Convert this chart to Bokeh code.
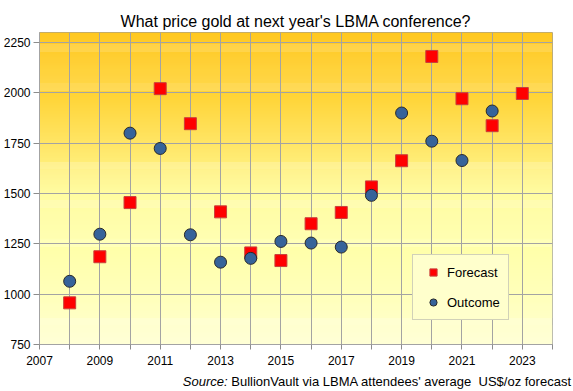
from bokeh.plotting import figure
from bokeh.models import FixedTicker, Legend, LegendItem, ColumnDataSource, Div
from bokeh.layouts import column
from bokeh.embed import file_html
from bokeh.resources import INLINE

# ---- data ----
forecast_years = [2008, 2009, 2010, 2011, 2012, 2013, 2014, 2015, 2016, 2017,
                  2018, 2019, 2020, 2021, 2022, 2023]
forecast = [957, 1186, 1455, 2021, 1847, 1409, 1205, 1167, 1350, 1406,
            1533, 1663, 2181, 1971, 1837, 1997]
outcome_years = [2008, 2009, 2010, 2011, 2012, 2013, 2014, 2015, 2016, 2017,
                 2018, 2019, 2020, 2021, 2022]
outcome = [1064, 1298, 1800, 1724, 1295, 1159, 1178, 1262, 1254, 1234,
           1491, 1900, 1760, 1664, 1910]
x_ticks = list(range(2007, 2025))
x_tick_labels = ["2007", "2009", "2011", "2013", "2015", "2017", "2019", "2021", "2023"]
y_ticks = [750, 1000, 1250, 1500, 1750, 2000, 2250]

FONT = "Liberation Sans"
GRID = "#A3A3A3"

p = figure(width=573, height=368, output_backend="svg", toolbar_location=None,
           x_range=(2007, 2024), y_range=(750, 2300),
           min_border_left=39, min_border_right=21, min_border_top=32,
           min_border_bottom=24)
p.background_fill_color = "#FFFFFF"
p.border_fill_color = "#FFFFFF"
p.outline_line_color = GRID
p.outline_line_width = 1

# title
p.title.text = "What price gold at next year's LBMA conference?"
p.title.align = "center"
p.title.text_font = FONT
p.title.text_font_size = "16px"
p.title.text_font_style = "normal"
p.title.text_color = "#000000"
p.title.standoff = 6

# gradient background (horizontal bands)
stops = [(750, (255, 255, 208)), (1000, (255, 255, 186)), (1250, (255, 255, 168)),
         (1500, (255, 251, 147)), (1750, (255, 229, 102)), (2000, (255, 211, 51)),
         (2300, (255, 192, 0))]


def col_at(v):
    for (v0, c0), (v1, c1) in zip(stops[:-1], stops[1:]):
        if v0 <= v <= v1:
            t = (v - v0) / (v1 - v0)
            return "#%02x%02x%02x" % tuple(int(round(a + (b - a) * t)) for a, b in zip(c0, c1))
    return "#%02x%02x%02x" % stops[-1][1]


bands_b = list(range(750, 2300, 5))
bg = ColumnDataSource(dict(bottom=bands_b, top=[b + 6 for b in bands_b],
                           color=[col_at(b + 2.5) for b in bands_b]))
r_bg = p.quad(left=2007, right=2024, bottom="bottom", top="top", fill_color="color",
              line_color=None, source=bg)
r_bg.level = "image"

# axes
for ax in (p.xaxis[0], p.yaxis[0]):
    ax.axis_line_color = GRID
    ax.major_tick_line_color = "#8C8C8C"
    ax.major_tick_in = 0
    ax.minor_tick_line_color = None
    ax.major_label_text_font = FONT
    ax.major_label_text_font_size = "12px"
    ax.major_label_text_color = "#000000"

p.xaxis.ticker = FixedTicker(ticks=x_ticks)
p.xaxis.major_label_overrides = {t: (str(t) if str(t) in x_tick_labels else "") for t in x_ticks}
p.xaxis.major_tick_out = 5
p.xaxis.major_label_standoff = 6
p.yaxis.ticker = FixedTicker(ticks=y_ticks)
p.yaxis.major_tick_out = 6
p.yaxis.major_label_standoff = 3

p.xgrid.grid_line_color = GRID
p.ygrid.grid_line_color = GRID
p.xgrid.grid_line_alpha = 1
p.ygrid.grid_line_alpha = 1

# markers
r_f = p.scatter(forecast_years, forecast, marker="square", size=12,
                fill_color="#FF0000", line_color="#C8403C", line_width=1)
r_o = p.scatter(outcome_years, outcome, marker="circle", size=12,
                fill_color="#36639A", line_color="#2A2A2A", line_width=1)

legend = Legend(items=[LegendItem(label="Forecast", renderers=[r_f]),
                       LegendItem(label="Outcome", renderers=[r_o])],
                location=(373, 24), orientation="vertical")
legend.background_fill_color = "#FFFFCC"
legend.background_fill_alpha = 1
legend.border_line_color = GRID
legend.border_line_width = 1
legend.label_text_font = FONT
legend.label_text_font_size = "13px"
legend.label_text_color = "#000000"
legend.glyph_width = 24
legend.glyph_height = 18
legend.label_height = 18
legend.label_standoff = 2
legend.spacing = 12
legend.padding = 8
legend.margin = 0
p.add_layout(legend, "center")

# source line
source_note = Div(
    text="<i>Source:</i> BullionVault via LBMA attendees' average&nbsp; US$/oz forecast",
    width=566, height=23,
    styles={"font-family": "'Liberation Sans', Arial, sans-serif", "font-size": "13px",
            "color": "#000000", "text-align": "right", "line-height": "18px"})

layout = column(p, source_note, spacing=0)
open("out.html", "w").write(file_html(layout, INLINE))
